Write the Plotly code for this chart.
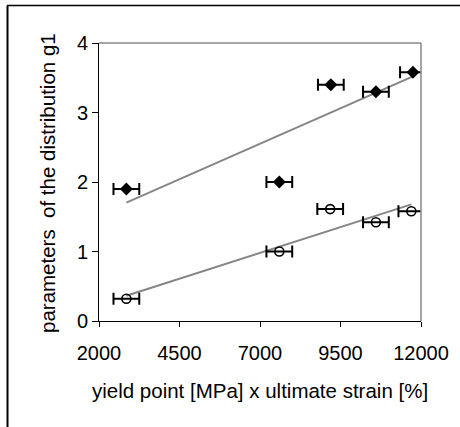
import numpy as np
import plotly.graph_objects as go

# data
x_diamond = [2850, 7600, 9200, 10600, 11750]
y_diamond = [1.90, 2.00, 3.40, 3.30, 3.58]
x_circle = [2850, 7600, 9180, 10600, 11700]
y_circle = [0.32, 1.00, 1.61, 1.42, 1.58]
x_err = 400
x_ticks = [2000, 4500, 7000, 9500, 12000]
x_tick_labels = ["2000", "4500", "7000", "9500", "12000"]
y_ticks = [0, 1, 2, 3, 4]

L, R, T, B = 99, 39, 43, 106
W, H = 460, 427
pw, ph = W - L - R, H - T - B

fig = go.Figure()

for xs, ys in [(x_diamond, y_diamond), (x_circle, y_circle)]:
    k, b = np.polyfit(xs, ys, 1)
    xl = [min(xs), max(xs)]
    fig.add_trace(go.Scatter(x=xl, y=[k * v + b for v in xl], mode="lines",
                             line=dict(color="#858585", width=2), showlegend=False,
                             hoverinfo="skip"))

fig.add_trace(go.Scatter(x=x_diamond, y=y_diamond, mode="markers",
                         marker=dict(symbol="diamond", size=10, color="black"),
                         error_x=dict(type="constant", value=x_err, color="black",
                                      thickness=2, width=6),
                         showlegend=False))
fig.add_trace(go.Scatter(x=x_circle, y=y_circle, mode="markers",
                         marker=dict(symbol="circle-open", size=9, color="black",
                                     line=dict(width=1.6, color="black")),
                         error_x=dict(type="constant", value=x_err, color="black",
                                      thickness=2, width=6),
                         showlegend=False))

font = "Liberation Sans, Arial, sans-serif"
fig.update_layout(
    width=W, height=H,
    margin=dict(l=L, r=R, t=T, b=B, pad=0),
    paper_bgcolor="white", plot_bgcolor="white",
    font=dict(family=font, color="black", size=20),
    xaxis=dict(range=[2000, 12000], tickvals=x_ticks, ticktext=x_tick_labels,
               ticks="outside", ticklen=5, ticklabelstandoff=9,
               tickwidth=1, tickcolor="black", showline=True, linecolor="black",
               linewidth=1, showgrid=False, zeroline=False,
               tickfont=dict(size=20, family=font)),
    yaxis=dict(range=[0, 4], tickvals=y_ticks, ticks="outside", ticklen=6,
               tickwidth=1, tickcolor="black", showline=True, linecolor="black",
               linewidth=1, showgrid=False, zeroline=False,
               tickfont=dict(size=20, family=font)),
)

def px(xp):
    return (xp - L) / pw

def py(yp):
    return (H - B - yp) / ph

shapes = [
    dict(type="line", xref="paper", yref="paper", x0=0, x1=1, y0=1, y1=1,
         line=dict(color="#888888", width=1.5)),
    dict(type="line", xref="paper", yref="paper", x0=1, x1=1, y0=0, y1=1,
         line=dict(color="#888888", width=1.5)),
    dict(type="line", xref="paper", yref="paper", x0=px(7), x1=px(W + 5), y0=py(5.5), y1=py(5.5),
         line=dict(color="black", width=1.5)),
    dict(type="line", xref="paper", yref="paper", x0=px(7.5), x1=px(7.5), y0=py(5.5), y1=py(H + 5),
         line=dict(color="black", width=2)),
]
fig.update_layout(shapes=shapes)

fig.add_annotation(text="parameters  of the distribution g1", xref="paper", yref="paper",
                   x=px(47), y=py(183), showarrow=False, textangle=-90,
                   font=dict(size=20.5, family=font), xanchor="center", yanchor="middle")
fig.add_annotation(text="yield point [MPa] x ultimate strain [%]", xref="paper", yref="paper",
                   x=px(260), y=py(390), showarrow=False,
                   font=dict(size=20.5, family=font), xanchor="center", yanchor="middle")

fig.write_html("out.html", config={"displayModeBar": False},
               post_script="document.body.style.margin='0';document.body.style.overflow='hidden';")
